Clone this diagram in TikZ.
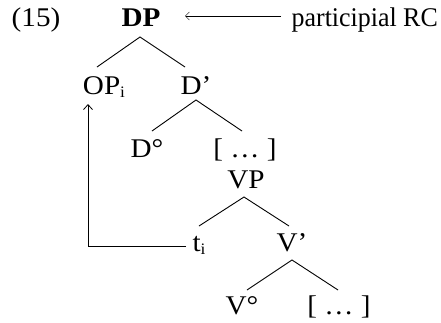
\documentclass[tikz,border=0pt]{standalone}
\usepackage{fontspec}
\setmainfont[FakeStretch=1.08]{Liberation Serif}
\newfontfamily\rcfont[FakeStretch=0.96]{Liberation Serif}
\usetikzlibrary{arrows.meta,calc}
\newcommand\lbsub[1]{\raisebox{-3pt}{\fontsize{16}{16}\selectfont #1}}
\begin{document}
\begin{tikzpicture}[x=1pt,y=-1pt,
  lab/.style={font=\fontsize{27}{32}\selectfont, inner sep=0pt, anchor=base},
  branch/.style={line width=0.9pt},
  move/.style={line width=0.9pt, -{Straight Barb[length=5pt,width=9pt,line width=0.8pt]}},
  point/.style={line width=0.5pt, -{Straight Barb[length=4pt,width=8pt,line width=0.5pt]}}]
\useasboundingbox (0,0) rectangle (441,322);
\node[lab] (ex) at (36,26) {(15)};
\node[lab] (DP) at (141,26) {\bfseries DP};
\node[lab, anchor=base east] (RC) at (438,26) {\rcfont participial RC};
\node[lab] (OP) at (104,94) {OP\lbsub{i}};
\node[lab] (Dbar) at (196,94) {D’};
\node[lab] (D0) at (147,157) {D°};
\node[lab] (Dc) at (245,157) {[ … ]};
\node[lab] (VP) at (246,188) {VP};
\node[lab] (t) at (199,251) {t\lbsub{i}};
\node[lab] (Vbar) at (292,251) {V’};
\node[lab] (V0) at (242,314) {V°};
\node[lab] (Vc) at (339,314) {[ … ]};
\coordinate (DPa) at (140,37);
\coordinate (OPe) at (97,67);
\coordinate (Dbe) at (185,67);
\coordinate (Dba) at (196,100);
\coordinate (D0e) at (152,131);
\coordinate (Dce) at (242,131);
\coordinate (VPa) at (244,197);
\coordinate (te) at (199,226);
\coordinate (Vbe) at (289,226);
\coordinate (Vba) at (292,260);
\coordinate (V0e) at (247,290);
\coordinate (Vce) at (338,290);
\draw[branch] (OPe) -- (DPa) -- (Dbe);
\draw[branch] (D0e) -- (Dba) -- (Dce);
\draw[branch] (te) -- (VPa) -- (Vbe);
\draw[branch] (V0e) -- (Vba) -- (Vce);
\coordinate (tl) at (186,246);
\coordinate (tip) at (88,104);
\draw[move] (tl) -| (tip);
\coordinate (RCl) at (281,16);
\coordinate (DPr) at (185,16);
\draw[point] (RCl) -- (DPr);
\end{tikzpicture}
\end{document}
